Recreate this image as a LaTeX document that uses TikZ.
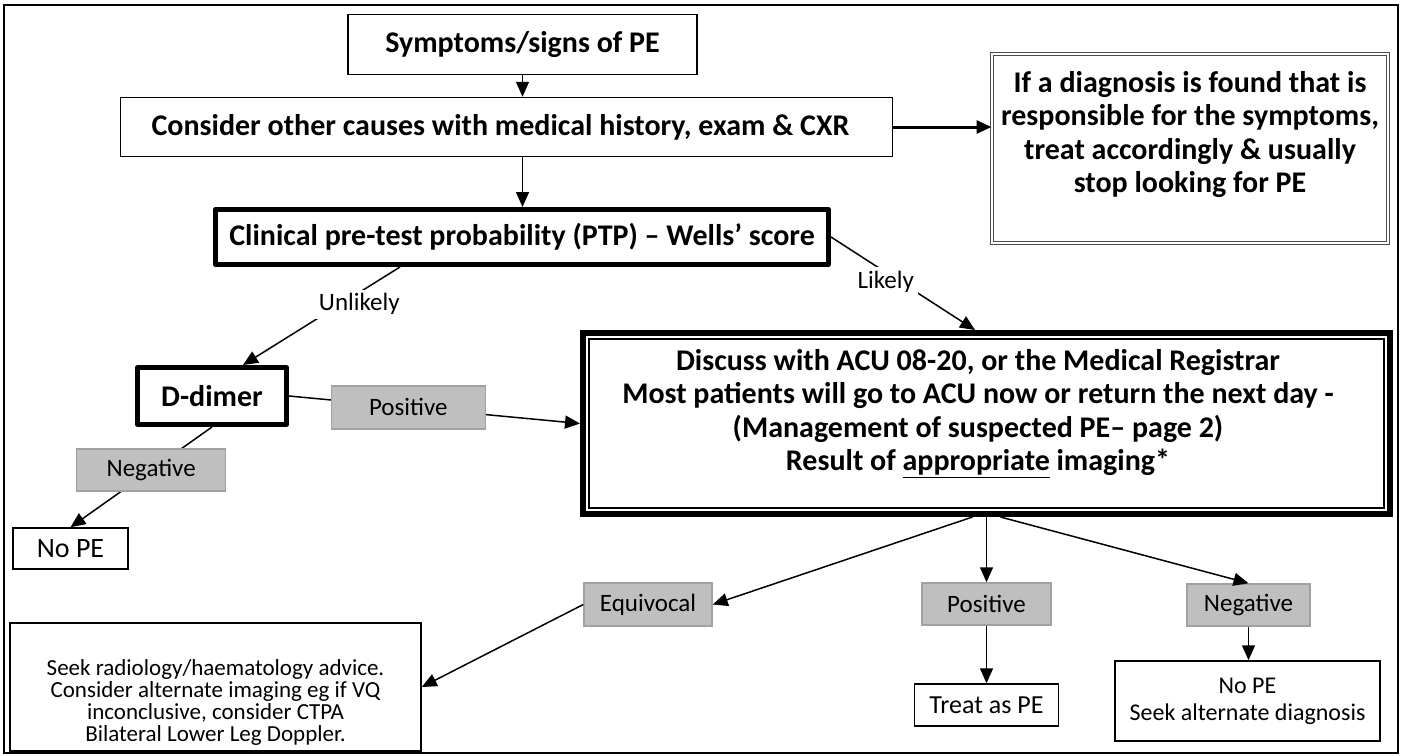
\documentclass[tikz,border=0pt]{standalone}
\usepackage{fontspec}
\setmainfont{Carlito}
\usetikzlibrary{arrows.meta}
\newcommand{\boxlines}[4]{\parbox[c][#2][c]{#1}{\centering\vspace*{#3}#4\par}}
\begin{document}
\begin{tikzpicture}[x=1pt,y=1pt,
  base/.style={inner sep=0pt, align=center, font=\fontsize{25}{30}\selectfont},
  thinbox/.style={base, draw, line width=1.5pt},
  boldtxt/.style={font=\fontsize{30}{33.5}\selectfont\bfseries},
  thickbox/.style={base, boldtxt, draw, line width=5pt, line join=round},
  graybox/.style={base, draw=black!37, fill=black!25, line width=1.5pt},
  arr/.style={line width=1.5pt, -{Triangle[length=15pt,width=13pt]}},
  lbl/.style={base, fill=white, inner sep=4pt}
]
\useasboundingbox (0,0) rectangle (1402,-755);
\draw[line width=1.5pt] (4,-5) rectangle (1398,-753);

\node[thinbox, boldtxt, minimum width=349pt, minimum height=60pt] (sym) at (522.5,-44.5) {Symptoms/signs of PE};
\node[thinbox, boldtxt] (cons) at (506.5,-127) {\boxlines{772pt}{59pt}{0pt}{\advance\rightskip by 12pt Consider other causes with medical history, exam \& CXR}};
\node[base, boldtxt, draw=black!70, double, double distance=1.5pt, line width=1pt] (diag) at (1190,-148.5) {\boxlines{396pt}{189pt}{-28pt}{If a diagnosis is found that is\\responsible for the symptoms,\\treat accordingly \& usually\\stop looking for PE}};
\node[thickbox, minimum width=613pt, minimum height=55pt] (clin) at (522,-237) {Clinical pre-test probability (PTP) -- Wells’ score};
\node[thickbox, minimum width=149pt, minimum height=57pt] (dd) at (212,-396) {D-dimer};
\node[base, boldtxt, draw, line width=6pt] (acu) at (986.5,-423.5) {\boxlines{807pt}{181pt}{-20pt}{\advance\rightskip by 17pt Discuss with ACU 08-20, or the Medical Registrar\\Most patients will go to ACU now or return the next day -\\(Management of suspected PE-- page 2)\\Result of \underline{appropriate} imaging*}};
\draw[line width=1.2pt] ([shift={(9,9)}]acu.south west) rectangle ([shift={(-9,-9)}]acu.north east);

\node[thinbox, minimum width=115pt, minimum height=41pt, font=\fontsize{28}{33}\selectfont] (nope) at (70.5,-548.5) {No PE};
\node[graybox, minimum width=128pt, minimum height=43pt] (eq) at (648,-604.5) {Equivocal};
\node[graybox, minimum width=129pt, minimum height=42pt] (posB) at (986.5,-604) {Positive};
\node[graybox, minimum width=123pt, minimum height=42pt] (negB) at (1248.5,-605) {Negative};
\node[thinbox, minimum width=144pt, minimum height=42pt, font=\fontsize{26}{31}\selectfont] (treat) at (986.5,-705) {Treat as PE};
\node[thinbox, minimum width=265pt, minimum height=80pt, font=\fontsize{24}{27}\selectfont] (nope2) at (1247.5,-701) {No PE\\Seek alternate diagnosis};
\node[thinbox, font=\fontsize{23}{22}\selectfont] (seek) at (215.5,-687) {\boxlines{411pt}{128pt}{30pt}{\lineskiplimit=-20pt Seek radiology/haematology advice.\\Consider alternate imaging eg if VQ\\inconclusive, consider CTPA\\Bilateral Lower Leg Doppler.}};

\draw[arr] (sym.south) -- (sym.south |- cons.north);
\draw[arr, line width=3pt] (cons.east) -- (cons.east -| diag.west);
\draw[arr] (cons.south -| sym.south) -- (sym.south |- clin.north);
\draw[arr] ([xshift=-122pt]clin.south) -- ([xshift=31pt]dd.north) node[lbl, pos=0.38, xshift=19pt] {Unlikely};
\draw[arr] (clin.east) -- ([xshift=-11.5pt]acu.north) node[lbl, pos=0.38, yshift=-9pt] {Likely};
\draw[arr] (dd.east) -- (acu.west) node[graybox, pos=0.41, minimum width=154pt, minimum height=43pt] {Positive};
\draw[arr] (dd.south) -- (nope.north) node[graybox, pos=0.43, minimum width=149pt, minimum height=42pt] {Negative};
\draw[arr] ([xshift=-14pt]acu.south) -- (eq.east);
\draw[arr] (acu.south) -- (posB.north);
\draw[arr] ([xshift=14pt]acu.south) -- (negB.north);
\draw[arr] (posB.south) -- (treat.north);
\draw[arr] (negB.south) -- (negB.south |- nope2.north);
\draw[arr] (eq.west) -- (seek.east);
\end{tikzpicture}
\end{document}
